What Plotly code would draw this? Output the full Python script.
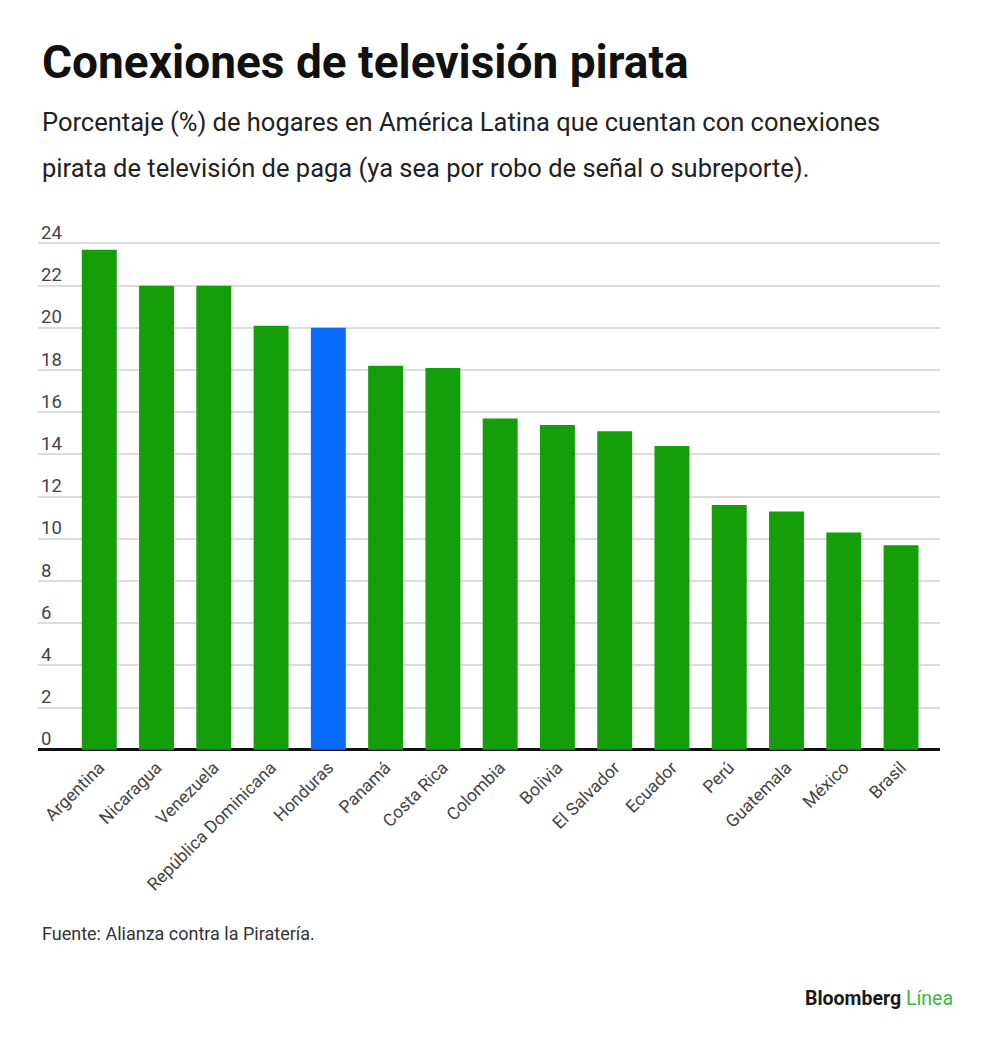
import plotly.graph_objects as go

# datos
paises = ["Argentina", "Nicaragua", "Venezuela", "República Dominicana", "Honduras",
          "Panamá", "Costa Rica", "Colombia", "Bolivia", "El Salvador", "Ecuador",
          "Perú", "Guatemala", "México", "Brasil"]
porcentaje = [23.7, 22.0, 22.0, 20.1, 20.0, 18.2, 18.1, 15.7, 15.4, 15.1, 14.4,
              11.6, 11.3, 10.3, 9.7]
resaltado = "Honduras"
y_ticks = list(range(0, 25, 2))

VERDE = "#149e0a"
AZUL = "#0a6cff"
colores = [AZUL if p == resaltado else VERDE for p in paises]

fig = go.Figure()
fig.add_trace(go.Bar(x=paises, y=porcentaje, marker_color=colores,
                     marker_line_width=0, showlegend=False, hoverinfo="x+y"))

fig.update_layout(
    width=1000, height=1040,
    margin=dict(l=30, r=68, t=208, b=295),
    plot_bgcolor="white", paper_bgcolor="white",
    bargap=0.39,
    font=dict(family="Roboto", color="#444444"),
)

fig.update_xaxes(
    range=[-1.07, 14.68],
    tickangle=-45,
    tickfont=dict(size=17.5, color="#444444"),
    showgrid=False,
    showline=False,
    ticks="",
)
fig.update_yaxes(
    range=[-0.15, 25.3],
    tickvals=y_ticks,
    ticklabelposition="inside",
    ticklabelshift=-11,
    ticklabelstandoff=0,
    tickfont=dict(size=18.5, color="#444444"),
    showgrid=True, gridcolor="#dcdcdc", gridwidth=1.5,
    zeroline=True, zerolinecolor="#111111", zerolinewidth=2.5,
    showline=False,
)

# titulo, subtitulo, fuente y marca (posiciones relativas al area del grafico)
fig.add_annotation(text="<b>Conexiones de televisión pirata</b>", xref="paper", yref="paper",
                   x=0, y=1, xanchor="left", yanchor="middle", showarrow=False,
                   xshift=2, yshift=154,
                   font=dict(family="Roboto", size=46, color="#111111"))
fig.add_annotation(text="Porcentaje (%) de hogares en América Latina que cuentan con conexiones",
                   xref="paper", yref="paper", x=0, y=1, xanchor="left", yanchor="middle",
                   showarrow=False, xshift=2, yshift=94,
                   font=dict(family="Roboto", size=25.5, color="#222222"))
fig.add_annotation(text="pirata de televisión de paga (ya sea por robo de señal o subreporte).",
                   xref="paper", yref="paper", x=0, y=1, xanchor="left", yanchor="middle",
                   showarrow=False, xshift=2, yshift=48,
                   font=dict(family="Roboto", size=25.5, color="#222222"))
fig.add_annotation(text="Fuente: Alianza contra la Piratería.",
                   xref="paper", yref="paper", x=0, y=0, xanchor="left", yanchor="middle",
                   showarrow=False, xshift=2, yshift=-180,
                   font=dict(family="Roboto", size=18, color="#333333"))
fig.add_annotation(text="<b>Bloomberg</b> <span style='color:#3cb83c'>Línea</span>",
                   xref="paper", yref="paper", x=1, y=0, xanchor="right", yanchor="middle",
                   showarrow=False, xshift=15, yshift=-245,
                   font=dict(family="Roboto", size=19.5, color="#1a1a1a"))

fig.write_html("out.html")
